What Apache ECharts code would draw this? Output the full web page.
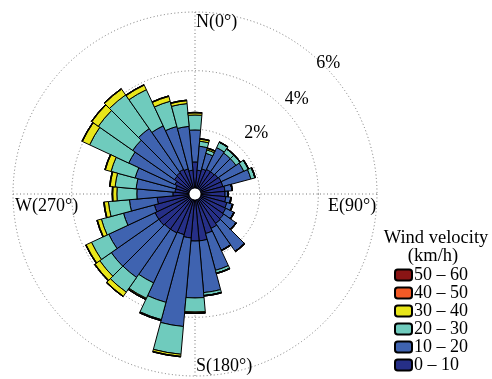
<!DOCTYPE html>
<html><head><meta charset="utf-8">
<script src="https://cdn.jsdelivr.net/npm/echarts@6/dist/echarts.min.js"></script>
<style>html,body{margin:0;padding:0;background:#fff}#c{width:492px;height:379px}</style>
</head><body><div id="c"></div>
<script>
// Direction categories (degrees, clockwise from North)
const directions = ['0','10','20','30','40','50','60','70','80','90','100','110','120','130','140','150','160','170',
  '180','190','200','210','220','230','240','250','260','270','280','290','300','310','320','330','340','350'];
const speedBins = ['0 – 10','10 – 20','20 – 30','30 – 40','40 – 50','50 – 60'];
const binColors = ['#262f87','#3f63b0','#6fcbbd','#e8e61a','#f25a26','#8a1515'];
// frequency (%) per direction for each velocity bin
const v0_10  = [0.89,0.61,0.68,0.72,0.72,0.75,0.78,0.78,0.82,0.82,0.85,0.92,0.95,0.99,1.02,1.09,1.19,1.40,
                1.40,1.30,1.23,1.26,1.26,1.30,1.30,1.23,1.09,0.55,0.48,0.48,0.55,0.65,0.68,0.72,0.68,0.61];
const v10_20 = [1.09,0.82,0.55,0.82,0.78,0.75,0.85,0.99,0.24,0.10,0.17,0.20,0.31,0.51,1.16,0.82,1.30,1.77,
                1.94,3.03,2.39,1.88,2.01,1.98,1.74,1.09,0.95,1.23,1.33,1.43,1.74,1.74,1.84,1.64,1.50,1.50];
const v20_30 = [0.51,0.17,0.12,0.20,0.17,0.17,0.17,0.14,0,0,0,0,0,0,0,0,0.10,0.10,
                0.48,0.95,0.61,0.58,0.61,0.48,0.65,0.78,0.72,0.68,0.72,0.85,1.47,1.43,1.40,1.36,0.89,0.78];
const v30_40 = [0.07,0.07,0.05,0,0,0,0,0,0,0,0,0,0,0,0,0,0,0,
                0.03,0.07,0.02,0.03,0.17,0.20,0.20,0.14,0.14,0.14,0.17,0.20,0.27,0.27,0.24,0.17,0.17,0.10];
const v40_50 = [0.02,0.02,0.02,0.02,0.02,0.02,0.02,0.02,0.02,0.02,0.02,0.02,0.02,0.02,0.02,0.02,0.02,0.02,
                0.02,0.02,0.02,0.02,0.02,0.02,0.02,0.02,0.02,0.02,0.02,0.02,0.02,0.02,0.02,0.02,0.02,0.02];
const v50_60 = [0,0,0,0,0,0,0,0,0,0,0,0,0,0,0,0,0,0,0,0,0,0,0,0,0,0,0,0,0,0,0,0,0,0,0,0];
const binValues = [v0_10, v10_20, v20_30, v30_40, v40_50, v50_60];
const radiusTicks = [2, 4, 6];
const tickLabels = ['2%', '4%', '6%'];
const compassLabels = ['N(0°)', 'E(90°)', 'S(180°)', 'W(270°)'];

const FONT = 'Liberation Serif';
const chart = echarts.init(document.getElementById('c'), null, {renderer: 'canvas'});
const CENTER = [195, 194], RADIUS = [6, 182];
const dotted = {color: '#777', width: 1, type: [1, 2.5]};

const option = {
  animation: false,
  backgroundColor: '#fff',
  polar: [
    {center: CENTER, radius: RADIUS},
    {center: CENTER, radius: RADIUS}
  ],
  angleAxis: [
    {polarIndex: 0, type: 'category', data: directions, startAngle: 95, clockwise: true,
     axisLine: {show: false}, axisTick: {show: false}, axisLabel: {show: false}, splitLine: {show: false}},
    {polarIndex: 1, type: 'value', min: 0, max: 360, interval: 90, startAngle: 90, clockwise: true,
     axisLine: {show: false}, axisTick: {show: false}, axisLabel: {show: false},
     splitLine: {show: true, lineStyle: dotted}}
  ],
  radiusAxis: [
    {polarIndex: 0, min: 0, max: 6, axisLine: {show: false}, axisTick: {show: false}, axisLabel: {show: false}, splitLine: {show: false}},
    {polarIndex: 1, min: 0, max: 6, interval: 2, axisLine: {show: false}, axisTick: {show: false}, axisLabel: {show: false},
     splitLine: {show: true, lineStyle: dotted}}
  ],
  legend: {
    orient: 'vertical', left: 394, top: 266, padding: 0, itemGap: 0,
    itemWidth: 17, itemHeight: 11,
    data: speedBins.slice().reverse(),
    textStyle: {fontFamily: FONT, fontSize: 18, color: '#000', lineHeight: 17.6, padding: [0,0,0,-3]},
    selectedMode: false
  },
  series: speedBins.map((name, i) => ({
    type: 'bar', name, coordinateSystem: 'polar', polarIndex: 0, stack: 'wind',
    data: binValues[i], barCategoryGap: '0%',
    itemStyle: {color: binColors[i], borderColor: '#000', borderWidth: 1},
    emphasis: {disabled: true}
  }))
};
chart.setOption(option);

function pt(r, a) {
  let p = null;
  try { p = chart.convertToPixel({polarIndex: 1}, [r, a]); } catch (e) { p = null; }
  if (!p || isNaN(p[0])) {
    const rp = RADIUS[0] + (RADIUS[1] - RADIUS[0]) * r / 6;
    const t = a * Math.PI / 180;
    p = [CENTER[0] + rp * Math.sin(t), CENTER[1] - rp * Math.cos(t)];
  }
  return p;
}
const txt = (x, y, text, align, vAlign, size) => ({
  type: 'text', x, y, silent: true,
  style: {text, fill: '#000', font: (size || 18) + 'px "' + FONT + '"', textAlign: align, textVerticalAlign: vAlign}
});
const labelRadii = [2.75, 4.55, 6.17];
const labelAngles = [45, 46.8, 45.4];
const graphics = [];
radiusTicks.forEach((v, i) => {
  const p = pt(labelRadii[i], labelAngles[i]);
  graphics.push(txt(p[0], p[1] + 1, tickLabels[i], 'center', 'middle'));
});
let p = pt(5.66, 0);   graphics.push(txt(p[0] + 1, p[1], compassLabels[0], 'left', 'middle'));
p = pt(4.33, 90);      graphics.push(txt(p[0], p[1] + 12, compassLabels[1], 'left', 'middle'));
p = pt(5.66, 180);     graphics.push(txt(p[0] + 1, p[1], compassLabels[2], 'left', 'middle'));
p = pt(3.78, 270);     graphics.push(txt(p[0], p[1] + 12, compassLabels[3], 'right', 'middle'));
graphics.push(txt(436, 238, 'Wind velocity', 'center', 'middle', 18.5));
graphics.push(txt(433, 256, '(km/h)', 'center', 'middle', 18.5));
chart.setOption({graphic: graphics});
</script>
</body></html>
